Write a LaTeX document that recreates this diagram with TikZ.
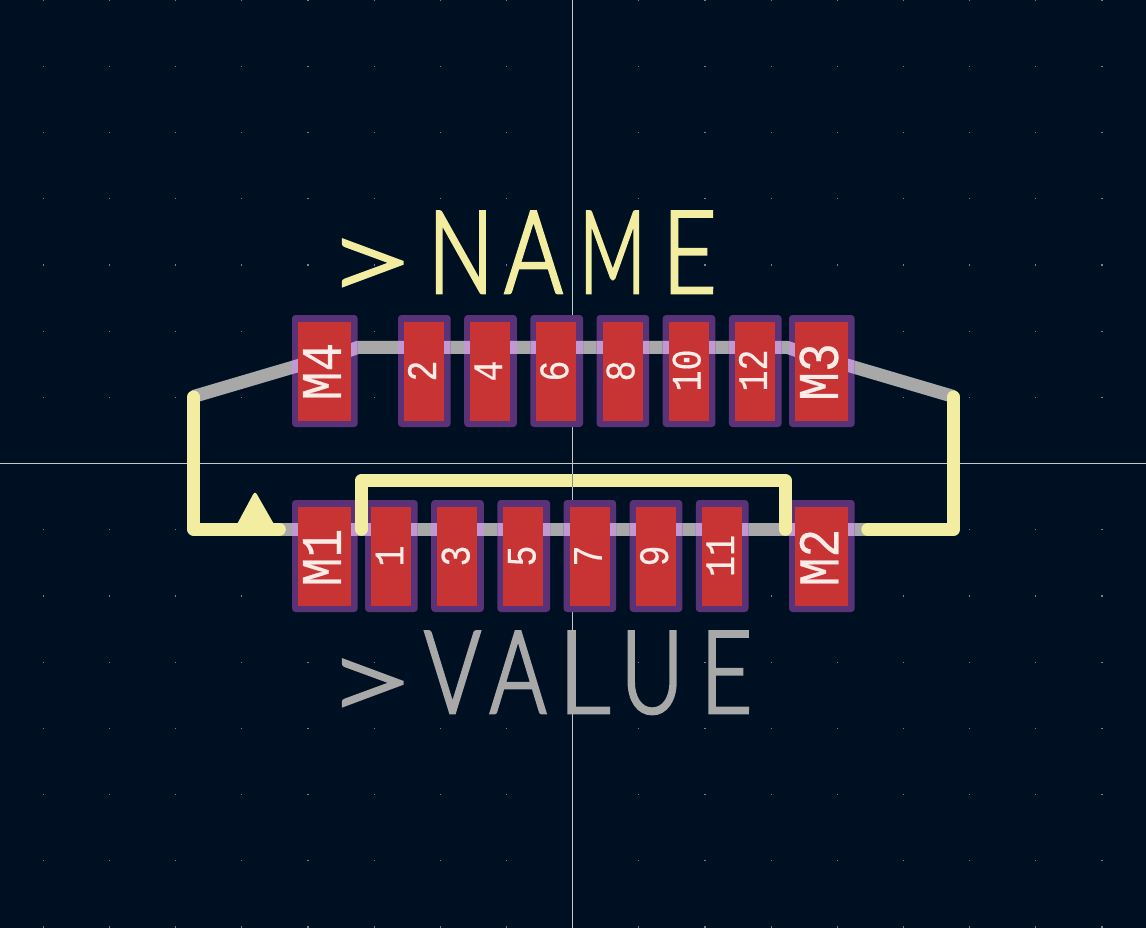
\documentclass[tikz,border=0pt]{standalone}
\usepackage{fontspec}
\newfontfamily\padfont[FakeBold=0.4]{Liberation Mono}
\newfontfamily\bigfont[FakeStretch=0.75,FakeBold=2.5]{Lato Light}
\definecolor{boardbg}{HTML}{001023}
\definecolor{silk}{HTML}{F2EDA1}
\definecolor{fab}{HTML}{A8A8A8}
\definecolor{copper}{HTML}{C83434}
\definecolor{mask}{HTML}{5A3278}
\definecolor{lilac}{HTML}{C098D4}
\definecolor{padtext}{HTML}{FCECE8}
\definecolor{griddot}{HTML}{74828F}
\definecolor{axis}{HTML}{C4C8CC}
\tikzset{
  silkline/.style={draw=silk,line width=13pt,line cap=round,line join=round},
  padlabel/.style={text=padtext,rotate=90,inner sep=0pt,font=\padfont},
  bigtext/.style={inner sep=0pt,anchor=base west,font=\bigfont\fontsize{115}{115}\selectfont},
}
\newcommand{\fabpaths}[1]{%
  \draw[#1,line width=13pt,line join=round]
    (348,351) -- (358,347.3) -- (787,347.3) -- (798,351);
  \draw[#1,line width=13pt] (193.5,396.5) -- (302,364.5);
  \draw[#1,line width=13pt] (845,364.5) -- (953.5,396.5);
  \draw[#1,line width=13pt] (270,529.5) -- (868,529.5);
}
\newcommand{\padshape}[7]{%
  \fill[mask,rounded corners=3.5pt] (#1-#3-6,#2-56) rectangle (#1+#3+6.7,#2+56);
  \begin{scope}
    \clip (#1-#3-6,#2-56) rectangle (#1+#3+6.7,#2+56);
    \fabpaths{lilac}
  \end{scope}
  \fill[copper] (#1-#3,#2-49) rectangle (#1+#3,#2+50);
  \node[padlabel] (pad#4) at (#6,#7) {\fontsize{#5}{#5}\selectfont\scalebox{1}[1.2]{#4}};
}
\newcommand{\gl}[3]{\kern#2pt\scalebox{#1}[1]{#3}}
\newcommand{\gt}{\kern-13.5pt\raisebox{-6.5pt}{\scalebox{1.75}[0.95]{>}}}
\begin{document}
\begin{tikzpicture}[x=1pt,y=-1pt]
\useasboundingbox (0,0) rectangle (1146,928);
\fill[boardbg] (0,0) rectangle (1146,928);
\foreach \i in {0,...,16} \foreach \j in {0,...,14}
  \fill[griddot] ({43.3+66.17*\i-0.6},{0.2+66.2*\j-0.6}) rectangle ++(1.2,1.2);
\draw[axis,line width=1pt] (572.5,0) -- (572.5,928);
\draw[axis,line width=1pt] (0,463.5) -- (1146,463.5);
\fabpaths{fab}
\padshape{324.5}{371}{26.5}{M4}{48}{322}{371.5}
\padshape{821.5}{371}{26.5}{M3}{48}{819}{372}
\padshape{324.5}{556}{26.5}{M1}{48}{322}{557.5}
\padshape{821.5}{556}{26.5}{M2}{48}{819}{557.5}
\padshape{391}{556}{20}{1}{35}{389.5}{556}
\padshape{424}{371}{20}{2}{35}{422}{371}
\padshape{457.2}{556}{20}{3}{35}{455.7}{556}
\padshape{490.2}{371}{20}{4}{35}{488.2}{371}
\padshape{523.4}{556}{20}{5}{35}{521.9}{556}
\padshape{556.4}{371}{20}{6}{35}{554.4}{371}
\padshape{589.5}{556}{20}{7}{35}{588}{556}
\padshape{622.5}{371}{20}{8}{35}{620.5}{371}
\padshape{655.7}{556}{20}{9}{35}{654.2}{556}
\padshape{688.7}{371}{20}{10}{35}{686.7}{370.5}
\padshape{721.8}{556}{20}{11}{35}{720.3}{556}
\padshape{754.9}{371}{20}{12}{35}{752.9}{370.5}
\fill[silk] (237.7,523) -- (253,494.5) .. controls (255,492) and (255,492) .. (257,494.5) -- (273.3,523) -- cycle;
\draw[silkline] (193.7,397) -- (193.7,529.3) -- (279.3,529.3);
\draw[silkline] (361.3,529.3) -- (361.3,480.5) -- (785.3,480.5) -- (785.3,529.3);
\draw[silkline] (867.8,529.3) -- (953.7,529.3) -- (953.7,397);
\draw[axis!70!black,line width=1pt] (572.5,474) -- (572.5,487);
\node[bigtext,text=silk] (nametext) at (340,293) {\gt\gl{1}{14}{N}\gl{1.03}{11}{A}\gl{.84}{17}{M}\gl{1.08}{17}{E}};
\node[bigtext,text=fab] (valuetext) at (340,713) {\gt\gl{1}{10}{V}\gl{1}{9}{A}\gl{1.18}{12}{L}\gl{1}{11}{U}\gl{1.03}{17}{E}};
\end{tikzpicture}
\end{document}
